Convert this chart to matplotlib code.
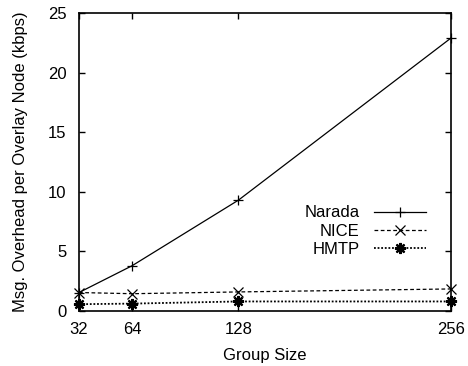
import matplotlib
matplotlib.use("Agg")
import matplotlib.pyplot as plt

group_sizes = [32, 64, 128, 256]
narada = [1.55, 3.8, 9.3, 22.9]
nice = [1.55, 1.45, 1.6, 1.85]
hmtp = [0.57, 0.62, 0.8, 0.8]
xticks = [32, 64, 128, 256]
yticks = [0, 5, 10, 15, 20, 25]

plt.rcParams['font.family'] = ['Liberation Sans', 'DejaVu Sans']
fig = plt.figure(figsize=(4.68, 3.66), dpi=100)
ax = fig.add_axes([79/468, 1-311/366, (451-79)/468, (311-13)/366])

ax.plot(group_sizes, narada, color='black', lw=0.9, ls='-', marker='+', ms=7, mew=0.9, label='Narada', clip_on=False)
ax.plot(group_sizes, nice, color='black', lw=0.9, ls=(0, (3, 2)), marker='x', ms=6.5, mew=0.9, label='NICE', clip_on=False)
ax.plot(group_sizes, hmtp, color='black', lw=1.3, ls=(0, (1, 1)), marker=(8, 2, 0), ms=8, mew=1.6, label='HMTP', clip_on=False)

ax.set_xlim(32, 256)
ax.set_ylim(0, 25)
ax.set_xticks(xticks)
ax.set_xticklabels([str(t) for t in xticks])
ax.set_yticks(yticks)
ax.tick_params(direction='in', top=True, right=True, length=4, width=1, labelsize=12)
ax.tick_params(axis='y', pad=9)
ax.tick_params(axis='x', pad=8)
for s in ax.spines.values():
    s.set_linewidth(1.2)
ax.set_xlabel('Group Size', fontsize=12, labelpad=8)
ax.set_ylabel('Msg. Overhead per Overlay Node (kbps)', fontsize=12, labelpad=14)

leg = ax.legend(loc='upper right', bbox_to_anchor=(0.955, 0.382), frameon=False, markerfirst=False,
                fontsize=12, handlelength=3.1, handletextpad=0.9, labelspacing=0.2, borderpad=0)
for t in leg.get_texts():
    t.set_ha('right')

fig.savefig('out.png', dpi=100)
